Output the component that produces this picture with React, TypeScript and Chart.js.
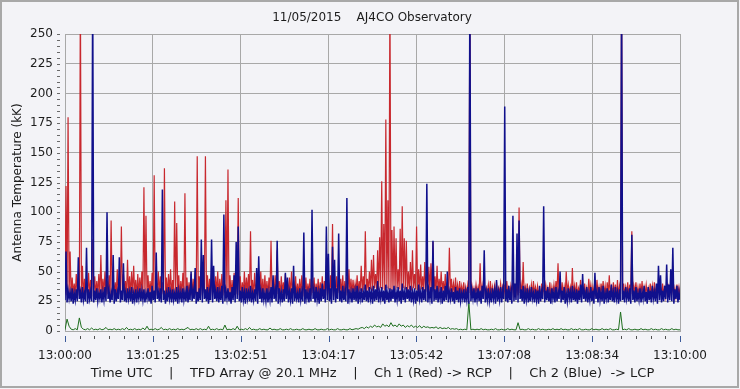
import React, { useEffect, useRef } from 'react';
import { Chart, registerables } from 'chart.js';

Chart.register(...registerables);

// ---- Data (per 2-second bin, lower and upper envelope) ----
const TITLE = '11/05/2015    AJ4CO Observatory';
const X_TITLE = 'Time UTC    |    TFD Array @ 20.1 MHz    |    Ch 1 (Red) -> RCP    |    Ch 2 (Blue)  -> LCP';
const Y_TITLE = 'Antenna Temperature (kK)';
const TIME_LABELS = ['13:00:00', '13:01:25', '13:02:51', '13:04:17', '13:05:42', '13:07:08', '13:08:34', '13:10:00'];
const SPAN_SECONDS = 600;
const SAMPLE_STEP = 2;
const Y_MIN = 0;
const Y_MAX = 250;
const Y_STEP = 25;
const Y_MINOR = 5;
const X_MINOR_PER_MAJOR = 6;

const RED_HIGH = [
  122, 180, 67, 45, 40, 48, 42, 290, 55, 44, 41, 49, 43, 77, 46, 42, 48, 64, 44, 50,
  42, 47, 93, 45, 41, 52, 44, 88, 48, 42, 60, 46, 50, 55, 43, 48, 45, 50, 121, 97,
  47, 42, 49, 131, 44, 50, 46, 41, 137, 45, 48, 52, 43, 109, 91, 47, 42, 49, 116, 45,
  41, 48, 44, 50, 147, 46, 49, 43, 147, 47, 44, 50, 42, 46, 50, 44, 48, 42, 110, 136,
  47, 43, 49, 44, 112, 46, 41, 50, 45, 48, 84, 43, 49, 41, 46, 50, 44, 47, 42, 45,
  76, 43, 47, 68, 42, 46, 41, 48, 43, 45, 50, 42, 46, 40, 44, 47, 41, 45, 40, 44,
  42, 45, 40, 44, 41, 46, 42, 45, 41, 47, 90, 43, 46, 41, 44, 47, 42, 45, 52, 44,
  43, 40, 47, 42, 55, 46, 84, 44, 50, 60, 64, 48, 68, 79, 126, 90, 178, 110, 290, 85,
  88, 78, 52, 86, 105, 78, 76, 50, 58, 68, 48, 88, 52, 56, 46, 58, 50, 54, 57, 75,
  46, 55, 44, 50, 42, 48, 41, 70, 44, 40, 45, 39, 42, 38, 41, 37, 39, 290, 38, 36,
  39, 37, 57, 38, 41, 36, 39, 42, 37, 38, 41, 36, 40, 37, 39, 42, 36, 38, 41, 37,
  40, 104, 39, 58, 37, 40, 36, 39, 42, 37, 38, 35, 40, 37, 39, 36, 41, 37, 39, 42,
  57, 38, 41, 37, 50, 39, 37, 53, 38, 41, 36, 43, 38, 40, 36, 44, 39, 37, 41, 43,
  37, 40, 42, 38, 41, 47, 37, 41, 39, 43, 38, 290, 40, 37, 41, 39, 84, 38, 41, 37,
  40, 42, 37, 39, 36, 40, 38, 41, 36, 39, 37, 40, 36, 39, 37, 41, 38, 36, 39, 37, 38,
];

const RED_LOW = [
  31, 30, 32, 29, 31, 30, 32, 30, 31, 29, 32, 30, 31, 29, 32, 30, 31, 30, 29, 32,
  30, 31, 29, 32, 30, 31, 29, 31, 30, 32, 29, 31, 30, 32, 31, 29, 30, 32, 31, 30,
  32, 30, 31, 29, 31, 30, 32, 29, 31, 30, 29, 32, 30, 31, 30, 32, 29, 31, 30, 32,
  29, 31, 30, 32, 30, 29, 31, 30, 32, 31, 29, 30, 32, 30, 31, 29, 31, 30, 32, 30,
  31, 29, 30, 32, 31, 30, 29, 31, 30, 32, 30, 31, 29, 32, 30, 31, 30, 29, 31, 30,
  32, 30, 31, 29, 31, 30, 32, 30, 29, 31, 30, 32, 31, 29, 30, 31, 29, 32, 30, 31,
  30, 32, 29, 31, 30, 31, 29, 32, 30, 31, 30, 29, 31, 32, 30, 31, 29, 30, 32, 31,
  31, 32, 33, 32, 34, 33, 35, 33, 34, 35, 34, 36, 35, 34, 36, 35, 34, 36, 35, 34,
  35, 34, 36, 35, 34, 36, 35, 33, 35, 34, 36, 35, 34, 33, 35, 34, 33, 35, 34, 33,
  34, 33, 32, 34, 33, 32, 33, 31, 33, 32, 31, 32, 30, 32, 31, 30, 31, 32, 30, 31,
  30, 32, 31, 29, 31, 30, 32, 30, 31, 29, 31, 30, 32, 31, 30, 29, 31, 30, 32, 30,
  31, 30, 32, 29, 31, 30, 29, 31, 30, 32, 30, 31, 29, 30, 32, 31, 30, 29, 31, 30,
  32, 30, 31, 29, 30, 32, 31, 30, 29, 31, 30, 32, 30, 31, 29, 30, 32, 31, 30, 29,
  31, 30, 32, 30, 29, 31, 30, 32, 31, 29, 30, 31, 32, 30, 31, 29, 31, 30, 32, 30,
  30, 31, 29, 32, 30, 31, 30, 29, 31, 30, 32, 30, 31, 29, 30, 31, 32, 30, 29, 31, 30,
];

const BLUE_HIGH = [
  67, 34, 33, 36, 32, 35, 62, 33, 37, 32, 70, 35, 33, 290, 34, 36, 32, 35, 33, 37,
  100, 34, 32, 64, 35, 33, 62, 34, 57, 32, 36, 33, 37, 32, 35, 33, 36, 34, 35, 32,
  36, 33, 38, 34, 66, 33, 36, 119, 34, 32, 37, 33, 35, 32, 37, 34, 33, 36, 33, 38,
  33, 50, 34, 53, 33, 36, 77, 64, 35, 37, 33, 77, 55, 34, 37, 33, 38, 98, 34, 36,
  33, 37, 47, 75, 88, 34, 37, 33, 36, 33, 38, 32, 35, 53, 63, 34, 36, 32, 36, 33,
  37, 47, 34, 76, 36, 33, 35, 49, 45, 33, 36, 55, 34, 32, 36, 33, 83, 35, 33, 36,
  102, 34, 37, 33, 36, 40, 35, 88, 65, 36, 71, 60, 36, 82, 34, 38, 33, 112, 35, 33,
  36, 34, 38, 33, 36, 33, 39, 34, 37, 33, 38, 35, 42, 33, 37, 34, 39, 33, 36, 35,
  38, 33, 37, 34, 40, 33, 37, 35, 38, 33, 36, 34, 39, 33, 37, 35, 124, 34, 37, 76,
  35, 38, 33, 37, 34, 38, 50, 33, 36, 33, 37, 34, 36, 32, 35, 33, 37, 290, 34, 36,
  33, 36, 34, 38, 68, 33, 36, 32, 36, 34, 43, 33, 37, 34, 189, 35, 38, 33, 97, 40,
  82, 93, 35, 38, 33, 36, 33, 37, 32, 35, 34, 38, 33, 105, 34, 37, 32, 36, 33, 37,
  33, 50, 34, 37, 32, 36, 33, 38, 33, 35, 34, 39, 48, 33, 37, 32, 37, 34, 49, 33,
  37, 33, 38, 32, 36, 34, 39, 33, 37, 33, 35, 290, 34, 37, 33, 36, 81, 34, 37, 32,
  36, 33, 38, 33, 37, 34, 38, 33, 40, 55, 47, 34, 38, 56, 39, 52, 70, 35, 38, 33, 36,
];

const BLUE_LOW = [
  26, 24, 27, 25, 23, 26, 25, 27, 24, 26, 25, 23, 27, 25, 24, 26, 25, 27, 24, 26,
  25, 27, 24, 26, 23, 25, 27, 24, 26, 25, 24, 27, 25, 23, 26, 24, 27, 25, 26, 24,
  27, 25, 23, 26, 24, 27, 25, 24, 26, 23, 25, 27, 24, 26, 25, 23, 27, 24, 26, 25,
  24, 26, 25, 27, 23, 25, 26, 24, 27, 25, 23, 26, 24, 27, 25, 24, 26, 23, 25, 27,
  25, 23, 26, 24, 27, 25, 24, 26, 23, 27, 25, 24, 26, 25, 23, 27, 24, 26, 25, 24,
  26, 24, 27, 25, 23, 26, 24, 25, 27, 24, 26, 23, 25, 27, 24, 26, 25, 23, 27, 24,
  25, 27, 24, 26, 23, 25, 27, 24, 26, 25, 23, 26, 24, 27, 25, 24, 26, 25, 23, 27,
  24, 26, 25, 23, 27, 24, 26, 25, 24, 27, 23, 25, 26, 24, 27, 25, 23, 26, 24, 25,
  27, 24, 26, 25, 23, 26, 24, 27, 25, 24, 26, 23, 25, 27, 24, 26, 25, 24, 27, 23,
  25, 26, 24, 27, 23, 25, 26, 24, 27, 25, 23, 26, 24, 25, 27, 24, 26, 23, 25, 27,
  24, 26, 25, 23, 27, 24, 26, 25, 24, 27, 23, 25, 26, 24, 27, 25, 24, 26, 23, 25,
  26, 24, 27, 25, 23, 26, 24, 25, 27, 24, 26, 23, 25, 27, 24, 26, 25, 23, 27, 24,
  25, 27, 24, 26, 23, 25, 27, 24, 26, 25, 23, 26, 24, 27, 25, 24, 26, 25, 23, 27,
  24, 26, 25, 23, 27, 24, 26, 25, 24, 27, 23, 25, 26, 24, 27, 25, 23, 26, 24, 25,
  26, 24, 27, 25, 23, 26, 24, 27, 25, 23, 26, 24, 25, 27, 24, 26, 25, 23, 27, 24, 26,
];

const GREEN = [
  1, 10, 4, 1.5, 1, 2, 1, 11, 3, 1.5, 1, 2, 1, 2.5, 1, 1.5, 1, 2, 1, 1.5,
  3, 1, 1.5, 1, 2, 1, 1.5, 1, 2, 1, 3, 1, 1.5, 1, 2, 1, 1.5, 1, 2.5, 1,
  4, 1, 1.5, 1, 2, 1, 1.5, 3, 1, 1.5, 1, 2, 1, 1.5, 1, 2, 1, 1.5, 1, 2,
  3, 1, 1.5, 1, 2, 1, 2, 1, 1.5, 1, 4, 1, 1.5, 1, 2, 1, 1.5, 1, 5, 1,
  1.5, 1, 2, 1, 4, 1, 1.5, 1, 2, 1, 3, 1, 1.5, 1, 1, 2, 1, 1.5, 1, 1,
  2.5, 1, 1.5, 1, 1, 2, 1, 1, 1.5, 1, 2, 1, 1, 1.5, 1, 1, 2, 1, 1, 1.5,
  1, 1, 2, 1, 1, 1.5, 1, 1, 2, 1, 1.5, 1, 1, 2, 1, 1, 1.5, 1, 1, 2,
  1, 1.5, 2, 1.5, 2.5, 3, 2, 3.5, 2.5, 4, 3, 5, 3.5, 4, 3, 6, 4, 5, 3.5, 7,
  4, 5, 3.5, 6, 4, 5, 3, 4.5, 3.5, 5, 3, 4, 3, 4.5, 2.5, 4, 3, 3.5, 2.5, 3,
  2.5, 3.5, 2, 3, 2, 2.5, 2, 3, 1.5, 2, 1.5, 2, 1, 1.5, 1, 1.5, 1, 24, 1, 1.5,
  1, 1.5, 1, 2, 1, 1.5, 1, 1, 1.5, 1, 2, 1, 1, 1.5, 1, 1, 2, 1, 1.5, 1,
  1, 7, 1, 1.5, 1, 1, 2, 1, 1.5, 1, 1, 2, 1, 1.5, 1, 1, 1.5, 1, 2, 1,
  1.5, 1, 2, 1, 1.5, 1, 1, 2, 1, 1.5, 1, 2, 1, 1, 1.5, 1, 1, 2, 1, 1.5,
  1, 1, 2, 1, 1.5, 1, 2, 1, 1, 1.5, 1, 16, 1, 1.5, 1, 2, 1, 1, 1.5, 1,
  1, 2, 1, 1.5, 1, 1, 2, 1, 1.5, 1, 1, 2, 1, 1.5, 1, 1, 2, 1, 1.5, 1, 1,
];

// ---- Styles ----
const FONT_FAMILY = '"DejaVu Sans", Verdana, sans-serif';
const TEXT_COLOR = '#1c1c1c';
const GRID_COLOR = '#a8a8a8';
const BG_COLOR = '#f3f3f7';
const FRAME_COLOR = '#a8a8a8';
const RED_COLOR = '#c8282e';
const BLUE_COLOR = '#10108c';
const GREEN_COLOR = '#1e6e1e';

// each bin contributes its low and its high, half a bin apart
const envelope = (low: number[], high: number[]) =>
  low.flatMap((lo, i) => [
    { x: i * SAMPLE_STEP, y: lo },
    { x: i * SAMPLE_STEP + SAMPLE_STEP / 2, y: high[i] },
  ]);
const toPoints = (vals: number[]) => vals.map((v, i) => ({ x: i * SAMPLE_STEP, y: v }));

const bgPlugin = {
  id: 'bgFrame',
  beforeDraw(chart: any) {
    const { ctx, width, height } = chart;
    ctx.save();
    ctx.fillStyle = BG_COLOR;
    ctx.fillRect(0, 0, width, height);
    ctx.strokeStyle = FRAME_COLOR;
    ctx.lineWidth = 2;
    ctx.strokeRect(1, 1, width - 3, height - 3);
    ctx.restore();
  },
};

const tickPlugin = {
  id: 'axisMarks',
  afterDraw(chart: any) {
    const { ctx } = chart;
    const xs = chart.scales.x;
    const ys = chart.scales.y;
    ctx.save();
    ctx.lineWidth = 1;
    ctx.strokeStyle = '#6a6a6a';
    for (let v = Y_MIN; v <= Y_MAX + 0.001; v += Y_MINOR) {
      const py = Math.round(ys.getPixelForValue(v)) + 0.5;
      ctx.beginPath();
      ctx.moveTo(xs.left - 8, py);
      ctx.lineTo(xs.left - 5, py);
      ctx.stroke();
    }
    const majors = TIME_LABELS.length - 1;
    const n = majors * X_MINOR_PER_MAJOR;
    for (let k = 0; k <= n; k++) {
      const v = (k * SPAN_SECONDS) / n;
      const px = Math.round(xs.getPixelForValue(v)) + 0.5;
      const major = k % X_MINOR_PER_MAJOR === 0;
      ctx.strokeStyle = major ? '#3c5a9a' : '#505050';
      ctx.beginPath();
      ctx.moveTo(px, ys.bottom + 5);
      ctx.lineTo(px, ys.bottom + (major ? 11 : 8));
      ctx.stroke();
    }
    ctx.restore();
  },
};

export default function App() {
  const ref = useRef<HTMLCanvasElement>(null);

  useEffect(() => {
    document.body.style.margin = '0';
    const canvas = ref.current;
    if (!canvas) return;
    const font = { family: FONT_FAMILY, size: 12, weight: 'normal' as const };
    const lineDs = (label: string, data: { x: number; y: number }[], color: string, order: number, width: number) => ({
      label,
      data,
      borderColor: color,
      backgroundColor: color,
      borderWidth: width,
      pointRadius: 0,
      tension: 0,
      fill: false,
      order,
    });
    const chart = new Chart(canvas, {
      type: 'line',
      data: {
        datasets: [
          lineDs('Ch 2 (Blue) LCP', envelope(BLUE_LOW, BLUE_HIGH), BLUE_COLOR, 0, 1.5),
          lineDs('Ch 1 (Red) RCP', envelope(RED_LOW, RED_HIGH), RED_COLOR, 1, 1.2),
          lineDs('Difference', toPoints(GREEN), GREEN_COLOR, 2, 1),
        ],
      },
      options: {
        responsive: false,
        animation: false,
        events: [],
        layout: { padding: { left: 4, right: 0, top: 0, bottom: 0 } },
        plugins: {
          legend: { display: false },
          tooltip: { enabled: false },
          title: {
            display: true,
            text: TITLE,
            color: TEXT_COLOR,
            font,
            padding: { top: 11, bottom: 8.6 },
          },
        },
        scales: {
          x: {
            type: 'linear',
            min: 0,
            max: SPAN_SECONDS,
            afterBuildTicks: (scale: any) => {
              scale.ticks = TIME_LABELS.map((_, i) => ({ value: (i * SPAN_SECONDS) / (TIME_LABELS.length - 1) }));
            },
            afterFit: (scale: any) => {
              scale.height = 58;
            },
            grid: { color: GRID_COLOR, drawTicks: false, lineWidth: 1 },
            border: { color: GRID_COLOR },
            ticks: {
              callback: (_v: any, i: number) => TIME_LABELS[i],
              color: TEXT_COLOR,
              font,
              padding: 18,
              maxRotation: 0,
              autoSkip: false,
            },
            title: {
              display: true,
              text: X_TITLE,
              color: TEXT_COLOR,
              font: { ...font, size: 13 },
              padding: { top: 0, bottom: 8 },
            },
          },
          y: {
            min: Y_MIN,
            max: Y_MAX,
            afterFit: (scale: any) => {
              scale.width = 61;
            },
            grid: { color: GRID_COLOR, drawTicks: false, lineWidth: 1 },
            border: { color: GRID_COLOR },
            ticks: { stepSize: Y_STEP, color: TEXT_COLOR, font, padding: 12 },
            title: {
              display: true,
              text: Y_TITLE,
              color: TEXT_COLOR,
              font,
              padding: { top: 7, bottom: 0 },
            },
          },
          yRight: {
            type: 'linear',
            position: 'right',
            display: true,
            afterFit: (scale: any) => {
              scale.width = 60;
            },
            grid: { display: false, drawTicks: false },
            border: { display: false },
            ticks: { display: false },
          },
        },
      },
      plugins: [bgPlugin, tickPlugin],
    });
    return () => chart.destroy();
  }, []);

  return <canvas ref={ref} width={740} height={389} style={{ display: 'block' }} />;
}
